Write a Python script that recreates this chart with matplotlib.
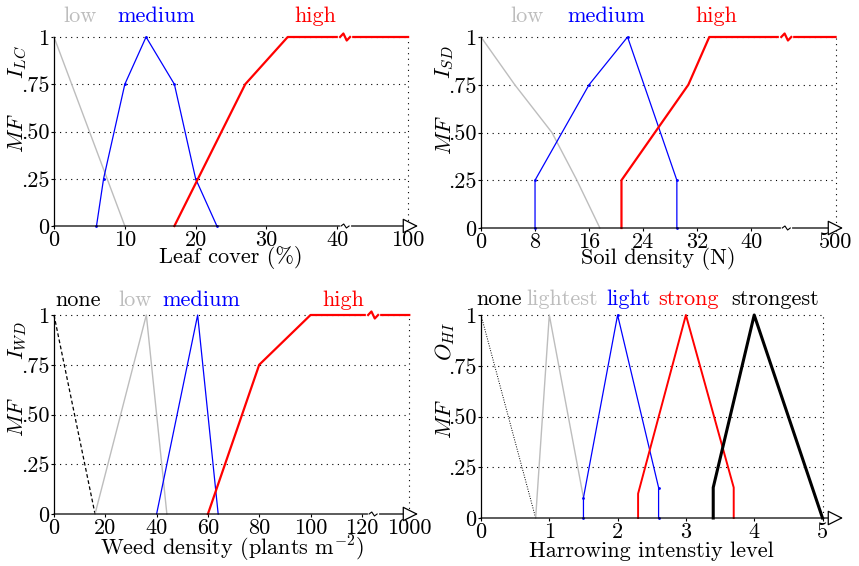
import matplotlib.pyplot as plt

plt.rcParams['font.family'] = ['cmr10', 'DejaVu Serif']
plt.rcParams['mathtext.fontset'] = 'cm'
plt.rcParams['axes.unicode_minus'] = False
plt.rcParams['font.size'] = 16

GRAY = '#bdbdbd'
BLUE = '#0000ff'
RED = '#ff0000'

# --- Leaf cover (axis units: 10 per tick, last tick = 100 %)
lc_ticks = [0, 10, 20, 30, 40, 50]
lc_labels = ['0', '10', '20', '30', '40', '100']
lc_low_x, lc_low_y = [0, 10], [1, 0]
lc_med_x = [6, 7, 10, 13, 17, 20, 23]
lc_med_y = [0, 0.25, 0.75, 1, 0.75, 0.25, 0]
lc_high_x, lc_high_y = [17, 27, 33, 50], [0, 0.75, 1, 1]

# --- Soil density
sd_ticks = [0, 8, 16, 24, 32, 40, 52.5]
sd_labels = ['0', '8', '16', '24', '32', '40', '500']
sd_low_x = [0, 5, 10.5, 14.2, 17.6]
sd_low_y = [1, 0.75, 0.5, 0.25, 0]
sd_med_x = [8, 8, 16, 21.7, 29, 29]
sd_med_y = [0, 0.25, 0.75, 1, 0.25, 0]
sd_high_x = [20.8, 20.8, 30.7, 33.8, 52.5]
sd_high_y = [0, 0.25, 0.75, 1, 1]

# --- Weed density
wd_ticks = [0, 20, 40, 60, 80, 100, 120, 138.5]
wd_labels = ['0', '20', '40', '60', '80', '100', '120', '1000']
wd_none_x, wd_none_y = [0, 16], [1, 0]
wd_low_x, wd_low_y = [16, 36, 44], [0, 1, 0]
wd_med_x, wd_med_y = [40, 56, 64], [0, 1, 0]
wd_high_x, wd_high_y = [60, 80, 100, 138.5], [0, 0.75, 1, 1]

# --- Harrowing intensity
hi_ticks = [0, 1, 2, 3, 4, 5]
hi_labels = ['0', '1', '2', '3', '4', '5']
hi_none_x, hi_none_y = [0, 0.8], [1, 0]
hi_lightest_x, hi_lightest_y = [0.8, 1, 1.5], [0, 1, 0.1]
hi_light_x = [1.5, 1.5, 2, 2.6, 2.6]
hi_light_y = [0, 0.1, 1, 0.15, 0]
hi_strong_x = [2.3, 2.3, 3, 3.7, 3.7]
hi_strong_y = [0, 0.12, 1, 0.15, 0]
hi_strongest_x = [3.4, 3.4, 4, 5]
hi_strongest_y = [0, 0.15, 1, 0]

yticks = [0, 0.25, 0.5, 0.75, 1]
ytick_labels = ['0', '.25', '.50', '.75', '1']

W, H = 859, 566
fig = plt.figure(figsize=(W / 100, H / 100), dpi=100)


def make_axes(px_left, px_bottom, px_w, px_h, xmax):
    ax = fig.add_axes([px_left / W, (H - px_bottom) / H, px_w / W, px_h / H])
    ax.set_xlim(0, xmax)
    ax.set_ylim(0, 1)
    ax.spines['top'].set_visible(False)
    ax.spines['right'].set_visible(False)
    ax.spines['bottom'].set_visible(False)
    ax.spines['left'].set_linewidth(0.9)
    ax.patch.set_alpha(0)
    ax.set_yticks(yticks)
    ax.set_yticklabels(ytick_labels)
    ax.tick_params(axis='y', length=2.5, width=0.8, pad=1)
    ax.tick_params(axis='x', length=2.5, width=0.8, pad=0.5)
    ax._pxw = px_w
    ax._pxh = px_h
    return ax


def zig(ax, xb, y, wpx, hpx, color, lw):
    dx = ax.get_xlim()[1] / ax._pxw
    dy = 1.0 / ax._pxh
    xs = [xb - wpx * dx, xb - wpx / 3 * dx, xb + wpx / 3 * dx, xb + wpx * dx]
    ys = [y, y + hpx * dy, y - hpx * dy, y]
    ax.plot([xs[0], xs[-1]], [y, y], color='white', lw=lw + 1.5,
            clip_on=False, zorder=4)
    ax.plot(xs, ys, color=color, lw=lw, clip_on=False, zorder=5)


def decorate(ax, xticks, xlabels, xend, xlabel, ylab, base_px, brk=None):
    xmax = ax.get_xlim()[1]
    ax.set_xticks(xticks)
    ax.set_xticklabels(xlabels)
    # dotted grid and right border
    for yv in yticks[1:]:
        ax.plot([0, xend], [yv, yv], color='black', lw=0.8,
                ls=(0, (1, 4)), zorder=1, clip_on=False)
    ax.plot([xend, xend], [0, 1], color='black', lw=0.8,
            ls=(0, (1, 4)), zorder=1, clip_on=False)
    # x axis with open arrow head
    ax.annotate('', xy=(xmax, 0), xytext=(0, 0),
                arrowprops=dict(arrowstyle='-|>,head_length=0.6,head_width=0.3',
                                fc='white', ec='black', lw=0.9,
                                shrinkA=0, shrinkB=0),
                annotation_clip=False, zorder=3)
    if brk is not None:
        zig(ax, brk, 0, 4, 2, 'black', 0.8)
    ax.text(xend / 2 / xmax, -base_px / ax._pxh, xlabel,
            transform=ax.transAxes, ha='center', va='baseline')
    ax.text(-0.1, 0.49, '$MF$', transform=ax.transAxes, rotation=90,
            ha='center', va='center')
    ax.text(-0.1, 0.87, ylab, transform=ax.transAxes, rotation=90,
            ha='center', va='center')


def top_labels(ax, items, y):
    for x, s, c in items:
        ax.text(x, y, s, color=c, ha='center', va='center')


# Panel 1: Leaf cover
ax1 = make_axes(54, 226, 364, 189, 51.4)
ax1.plot(lc_low_x, lc_low_y, color=GRAY, lw=1.0, clip_on=False)
ax1.plot(lc_med_x, lc_med_y, color=BLUE, lw=0.9, marker='.', ms=2,
         clip_on=False)
ax1.plot(lc_high_x, lc_high_y, color=RED, lw=1.6, clip_on=False)
zig(ax1, 41.1, 1, 5, 3.5, RED, 1.6)
decorate(ax1, lc_ticks, lc_labels, 50, 'Leaf cover (%)', '$I_{LC}$', 37,
         brk=41.1)
top_labels(ax1, [(3.7, 'low', GRAY), (14.5, 'medium', BLUE),
                 (36.9, 'high', RED)], 1.11)

# Panel 2: Soil density
ax2 = make_axes(481, 228, 362, 191, 53.6)
ax2.plot(sd_low_x, sd_low_y, color=GRAY, lw=1.0, clip_on=False)
ax2.plot(sd_med_x, sd_med_y, color=BLUE, lw=0.9, marker='.', ms=2,
         clip_on=False)
ax2.plot(sd_high_x, sd_high_y, color=RED, lw=1.6, clip_on=False)
zig(ax2, 45.2, 1, 5, 3.5, RED, 1.6)
decorate(ax2, sd_ticks, sd_labels, 52.5, 'Soil density (N)', '$I_{SD}$',
         36, brk=45.2)
top_labels(ax2, [(6.8, 'low', GRAY), (18.6, 'medium', BLUE),
                 (34.9, 'high', RED)], 1.11)

# Panel 3: Weed density
ax3 = make_axes(54, 514, 364, 199, 141.9)
ax3.plot(wd_none_x, wd_none_y, color='black', lw=0.9, ls=(0, (3, 2)),
         clip_on=False)
ax3.plot(wd_low_x, wd_low_y, color=GRAY, lw=1.0, clip_on=False)
ax3.plot(wd_med_x, wd_med_y, color=BLUE, lw=0.9, clip_on=False)
ax3.plot(wd_high_x, wd_high_y, color=RED, lw=1.6, clip_on=False)
zig(ax3, 124.4, 1, 5, 3.5, RED, 1.6)
decorate(ax3, wd_ticks, wd_labels, 138.5,
         r'Weed density (plants m$^{\mathrm{-2}}$)', '$I_{WD}$', 42,
         brk=124.4)
top_labels(ax3, [(9.4, 'none', 'black'), (31.5, 'low', GRAY),
                 (57.5, 'medium', BLUE), (112.7, 'high', RED)], 1.075)

# Panel 4: Harrowing intensity
ax4 = make_axes(481, 518, 362, 203, 5.3)
ax4.plot(hi_none_x, hi_none_y, color='black', lw=0.7, ls=(0, (1, 1.5)),
         clip_on=False)
ax4.plot(hi_lightest_x, hi_lightest_y, color=GRAY, lw=1.0, clip_on=False)
ax4.plot(hi_light_x, hi_light_y, color=BLUE, lw=0.9, marker='.', ms=2,
         clip_on=False)
ax4.plot(hi_strong_x, hi_strong_y, color=RED, lw=1.4, clip_on=False)
ax4.plot(hi_strongest_x, hi_strongest_y, color='black', lw=2.2,
         clip_on=False)
decorate(ax4, hi_ticks, hi_labels, 5, 'Harrowing intenstiy level',
         '$O_{HI}$', 39)
top_labels(ax4, [(0.26, 'none', 'black'), (1.19, 'lightest', GRAY),
                 (2.16, 'light', BLUE), (3.04, 'strong', RED),
                 (4.31, 'strongest', 'black')], 1.077)

fig.savefig('out.png', dpi=100)
